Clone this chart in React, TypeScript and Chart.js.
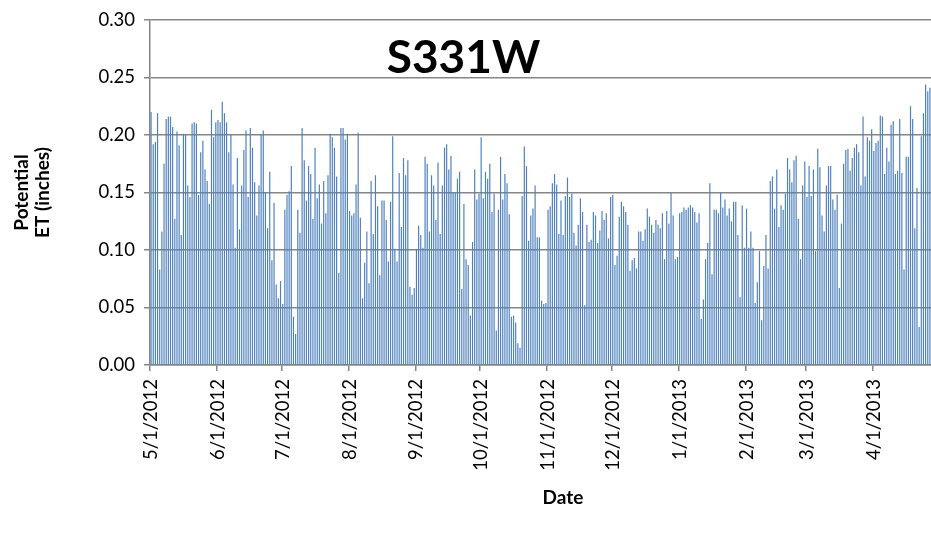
import React, { useEffect, useRef } from 'react';
import { Chart, registerables } from 'chart.js';

Chart.register(...registerables);

// Month starts (m, year) in order, and daily potential ET values (inches)
const monthStarts: [number, number][] = [
  [5, 2012], [6, 2012], [7, 2012], [8, 2012], [9, 2012], [10, 2012],
  [11, 2012], [12, 2012], [1, 2013], [2, 2013], [3, 2013], [4, 2013],
];

const may12 = [0.220,0.192,0.194,0.219,0.083,0.116,0.175,0.214,0.216,0.216,0.207,0.127,0.203,0.191,0.113,0.201,0.200,0.156,0.146,0.210,0.211,0.210,0.148,0.185,0.195,0.170,0.160,0.140,0.222,0.198,0.211];
const jun12 = [0.213,0.211,0.229,0.219,0.211,0.185,0.200,0.157,0.102,0.180,0.118,0.156,0.187,0.204,0.146,0.206,0.189,0.159,0.130,0.156,0.200,0.204,0.150,0.119,0.168,0.091,0.141,0.070,0.058,0.073];
const jul12 = [0.053,0.135,0.148,0.151,0.173,0.042,0.027,0.135,0.115,0.206,0.178,0.143,0.173,0.166,0.127,0.189,0.145,0.157,0.123,0.160,0.132,0.165,0.201,0.198,0.189,0.164,0.080,0.206,0.206,0.196,0.201];
const aug12 = [0.134,0.130,0.132,0.157,0.202,0.128,0.058,0.089,0.116,0.071,0.160,0.114,0.165,0.138,0.078,0.143,0.143,0.126,0.090,0.142,0.199,0.101,0.090,0.167,0.120,0.180,0.165,0.178,0.068,0.061,0.067];
const sep12 = [0.101,0.121,0.113,0.102,0.181,0.175,0.116,0.165,0.156,0.126,0.176,0.114,0.156,0.189,0.192,0.170,0.182,0.150,0.150,0.162,0.168,0.066,0.140,0.092,0.087,0.043,0.107,0.170,0.144,0.149];
const oct12 = [0.198,0.145,0.168,0.162,0.175,0.133,0.149,0.030,0.135,0.181,0.144,0.166,0.158,0.131,0.042,0.043,0.037,0.019,0.015,0.147,0.190,0.173,0.108,0.130,0.136,0.156,0.111,0.111,0.056,0.053,0.054];
const nov12 = [0.135,0.138,0.158,0.166,0.157,0.114,0.143,0.113,0.147,0.163,0.146,0.149,0.115,0.104,0.122,0.145,0.133,0.052,0.122,0.107,0.109,0.133,0.130,0.106,0.117,0.134,0.126,0.132,0.110,0.146];
const dec12 = [0.148,0.087,0.095,0.129,0.142,0.138,0.133,0.122,0.082,0.091,0.093,0.084,0.116,0.116,0.108,0.118,0.136,0.129,0.122,0.115,0.126,0.122,0.119,0.132,0.092,0.134,0.123,0.150,0.130,0.092,0.094];
const jan13 = [0.132,0.133,0.137,0.135,0.137,0.139,0.137,0.133,0.124,0.132,0.040,0.057,0.092,0.106,0.158,0.079,0.135,0.135,0.132,0.150,0.137,0.144,0.130,0.136,0.125,0.142,0.142,0.113,0.059,0.139,0.102];
const feb13 = [0.136,0.102,0.116,0.102,0.054,0.072,0.099,0.039,0.086,0.113,0.084,0.160,0.164,0.136,0.170,0.120,0.139,0.135,0.149,0.180,0.170,0.159,0.178,0.182,0.127,0.092,0.156,0.177];
const mar13 = [0.146,0.173,0.147,0.170,0.099,0.188,0.172,0.130,0.116,0.156,0.173,0.173,0.144,0.135,0.148,0.067,0.123,0.175,0.187,0.188,0.169,0.180,0.189,0.192,0.185,0.156,0.216,0.164,0.198,0.195,0.205];
const apr13 = [0.186,0.193,0.195,0.217,0.216,0.166,0.189,0.177,0.209,0.212,0.166,0.169,0.214,0.167,0.083,0.181,0.181,0.225,0.214,0.119,0.154,0.033,0.199,0.219,0.244,0.238,0.241];

const monthValues = [may12, jun12, jul12, aug12, sep12, oct12, nov12, dec12, jan13, feb13, mar13, apr13];

const yTicks = [0, 0.05, 0.1, 0.15, 0.2, 0.25, 0.3];

const chartTitle = 'S331W';
const xTitle = 'Date';
const yTitle = ['Potential', 'ET (inches)'];

const FONT = 'Lato, Carlito, "Open Sans", sans-serif';

export default function App() {
  const ref = useRef<HTMLCanvasElement | null>(null);

  useEffect(() => {
    const labels: string[] = [];
    const values: number[] = [];
    const starts = new Set<number>();
    monthValues.forEach((arr, mi) => {
      const [m, y] = monthStarts[mi];
      starts.add(labels.length);
      arr.forEach((v, d) => {
        labels.push(`${m}/${d + 1}/${y}`);
        values.push(v);
      });
    });

    const textPlugin = {
      id: 'texts',
      afterDraw(chart: any) {
        const ctx = chart.ctx as CanvasRenderingContext2D;
        const a = chart.chartArea;
        ctx.save();
        ctx.fillStyle = '#000';
        ctx.textAlign = 'center';
        ctx.textBaseline = 'middle';
        ctx.font = `bold 46px ${FONT}`;
        ctx.fillText(chartTitle, chart.width / 2 - 2, 58);
        ctx.font = `bold 19px ${FONT}`;
        ctx.fillText(xTitle, 563, 498);
        ctx.translate(0, (a.top + a.bottom) / 2);
        ctx.rotate(-Math.PI / 2);
        ctx.fillText(yTitle[0], 0, 22);
        ctx.fillText(yTitle[1], 0, 43);
        ctx.restore();
      },
    };

    let chart: Chart | null = null;
    let cancelled = false;
    const make = () => {
      if (cancelled || !ref.current) return;
      chart = new Chart(ref.current, {
        type: 'bar',
        data: {
          labels,
          datasets: [{
            data: values,
            backgroundColor: '#4F81BD',
            borderWidth: 0,
            barPercentage: 0.55,
            categoryPercentage: 1,
          }],
        },
        options: {
          responsive: false,
          animation: false,
          layout: { padding: { top: 20, right: 0, left: 0, bottom: 0 } },
          plugins: { legend: { display: false }, tooltip: { enabled: false }, title: { display: false } },
          scales: {
            x: {
              type: 'category',
              offset: true,
              grid: {
                offset: true,
                drawOnChartArea: false,
                drawTicks: true,
                tickLength: 6,
                lineWidth: 1.5,
                color: (c: any) => (starts.has(c.index) ? '#868686' : 'rgba(0,0,0,0)'),
                tickColor: (c: any) => (starts.has(c.index) ? '#868686' : 'rgba(0,0,0,0)'),
              },
              border: { display: true, color: '#868686', width: 1.5 },
              ticks: {
                autoSkip: false,
                maxRotation: 90,
                minRotation: 90,
                padding: 8,
                color: '#000',
                font: { family: FONT, size: 18.5 },
                callback: (_v: any, i: number) => (starts.has(i) ? labels[i] : ''),
              },
              afterFit: (s: any) => { s.height = 170; s.paddingLeft = 0; s.paddingRight = 0; },
            },
            y: {
              min: 0,
              max: 0.3,
              afterBuildTicks: (s: any) => { s.ticks = yTicks.map((v) => ({ value: v })); },
              ticks: {
                color: '#000',
                padding: 9,
                font: { family: FONT, size: 18.5 },
                callback: (v: any) => Number(v).toFixed(2),
              },
              grid: { color: '#868686', lineWidth: 1.5, tickLength: 6 },
              border: { display: true, color: '#868686', width: 1.5 },
              afterFit: (s: any) => { s.width = 150; s.paddingTop = 0; s.paddingBottom = 0; },
            },
          },
        },
        plugins: [textPlugin],
      });
    };

    const fontsReady = (document as any).fonts
      ? Promise.all([
          (document as any).fonts.load(`bold 46px Lato`),
          (document as any).fonts.load(`18px Lato`),
        ]).catch(() => null)
      : Promise.resolve(null);
    fontsReady.then(make);

    return () => {
      cancelled = true;
      if (chart) chart.destroy();
    };
  }, []);

  return (
    <div style={{ position: 'fixed', left: 0, top: 0, width: 931, height: 535, background: '#fff' }}>
      <canvas ref={ref} width={931} height={535} style={{ display: 'block' }} />
    </div>
  );
}
